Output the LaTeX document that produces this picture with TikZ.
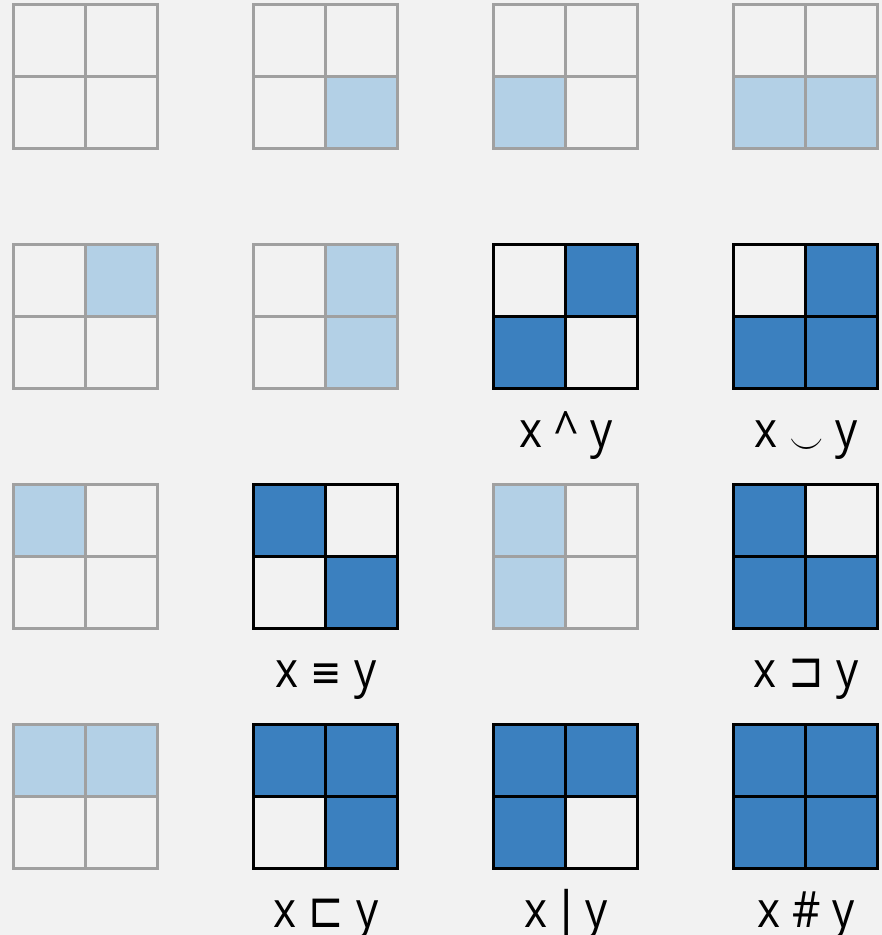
\documentclass[tikz,border=0pt]{standalone}
\usepackage{fontspec}
\setmainfont[FakeStretch=0.88]{Open Sans}
\newfontfamily\symfont[FakeStretch=0.85]{DejaVu Sans}
\definecolor{bgc}{HTML}{F2F2F2}
\definecolor{lightc}{HTML}{B3D0E6}
\definecolor{darkc}{HTML}{3B80BF}
\definecolor{gridc}{HTML}{A0A0A0}
\tikzset{
  lightgrid/.style={draw=gridc,line width=2.6pt},
  darkgrid/.style={draw=black,line width=2.6pt},
  lab/.style={anchor=base,font=\fontsize{50}{50}\selectfont,inner sep=0pt},
}
\newcommand{\symtxt}[2][42]{{\symfont\fontsize{#1}{#1}\selectfont #2}}
\newcommand{\gp}{\hspace{12pt}}
% #1 left, #2 top, #3 style, #4 list of filled cells (col/row), #5 fill colour
\newcommand{\mygrid}[5]{%
  \foreach \cc/\rr in {#4}{%
    \fill[#5] ({#1+72*\cc},{#2+72*\rr}) rectangle ++(72,72);
  }
  \draw[#3] (#1,#2) rectangle ++(144,144);
  \draw[#3] ({#1+72},#2) -- ++(0,144);
  \draw[#3] (#1,{#2+72}) -- ++(144,0);
}
\begin{document}
\begin{tikzpicture}[x=1pt,y=-1pt]
\fill[bgc] (0,0) rectangle (882,935);
\useasboundingbox (0,0) rectangle (882,935);
% row 1
\draw[lightgrid] (13.5,4.5) rectangle ++(144,144);
\draw[lightgrid] (85.5,4.5) -- ++(0,144);
\draw[lightgrid] (13.5,76.5) -- ++(144,0);
\mygrid{253.5}{4.5}{lightgrid}{1/1}{lightc}
\mygrid{493.5}{4.5}{lightgrid}{0/1}{lightc}
\mygrid{733.5}{4.5}{lightgrid}{0/1,1/1}{lightc}
% row 2
\mygrid{13.5}{244.5}{lightgrid}{1/0}{lightc}
\mygrid{253.5}{244.5}{lightgrid}{1/0,1/1}{lightc}
\mygrid{493.5}{244.5}{darkgrid}{1/0,0/1}{darkc}
\mygrid{733.5}{244.5}{darkgrid}{1/0,0/1,1/1}{darkc}
% row 3
\mygrid{13.5}{484.5}{lightgrid}{0/0}{lightc}
\mygrid{253.5}{484.5}{darkgrid}{0/0,1/1}{darkc}
\mygrid{493.5}{484.5}{lightgrid}{0/0,0/1}{lightc}
\mygrid{733.5}{484.5}{darkgrid}{0/0,0/1,1/1}{darkc}
% row 4
\mygrid{13.5}{724.5}{lightgrid}{0/0,1/0}{lightc}
\mygrid{253.5}{724.5}{darkgrid}{0/0,1/0,1/1}{darkc}
\mygrid{493.5}{724.5}{darkgrid}{0/0,1/0,0/1}{darkc}
\mygrid{733.5}{724.5}{darkgrid}{0/0,1/0,0/1,1/1}{darkc}
% labels
\node[lab] (l1) at (566,447) {x\gp\^{}\gp y};
\node[lab] (l2) at (806,447) {x\gp\raisebox{-8pt}{\resizebox{34pt}{16pt}{$\smile$}}\gp y};
\node[lab] (l3) at (326,687) {x\gp\symtxt[44]{≡}\gp y};
\node[lab] (l4) at (806,687) {x\gp\symtxt[50]{⊐}\gp y};
\node[lab] (l5) at (326,927) {x\gp\symtxt[50]{⊏}\gp y};
\node[lab] (l6) at (566,927) {x\gp\symtxt[50]{|}\gp y};
\node[lab] (l7) at (806,927) {x\gp\#\gp y};
\end{tikzpicture}
\end{document}
